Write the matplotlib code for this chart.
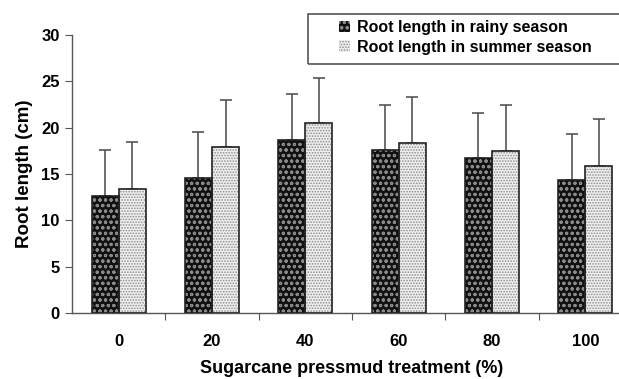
import matplotlib.pyplot as plt
import numpy as np
from matplotlib.patches import Rectangle

plt.rcParams['font.family'] = ['Liberation Sans', 'DejaVu Sans']
plt.rcParams['font.weight'] = 'bold'
plt.rcParams['axes.labelweight'] = 'bold'
plt.rcParams['hatch.linewidth'] = 0.8

# data
treatments = ["0", "20", "40", "60", "80", "100"]
rainy = [12.6, 14.6, 18.7, 17.6, 16.7, 14.3]
rainy_err = [5.0, 4.9, 4.9, 4.9, 4.9, 5.0]
summer = [13.4, 17.9, 20.5, 18.3, 17.5, 15.9]
summer_err = [5.0, 5.1, 4.9, 5.0, 5.0, 5.0]

W, H = 619, 379
fig = plt.figure(figsize=(W / 100, H / 100), dpi=100)
ax = fig.add_axes([72 / W, (H - 313) / H, 560 / W, 278 / H])

x = np.arange(len(treatments))
bw = 0.29
grey = '#555555'
r_face, r_hatch = '#111111', '#8a8a8a'
s_face, s_hatch = '#f0f0f0', '#8c8c8c'

# filled + hatched bars (hatch drawn in edge colour), then black outline
ax.bar(x - bw / 2, rainy, bw, color=r_face, edgecolor=r_hatch, hatch='ooo', linewidth=0, zorder=2)
ax.bar(x + bw / 2, summer, bw, color=s_face, edgecolor=s_hatch, hatch='......', linewidth=0, zorder=2)
ax.bar(x - bw / 2, rainy, bw, fill=False, edgecolor='#222222', linewidth=1.2, zorder=3)
ax.bar(x + bw / 2, summer, bw, fill=False, edgecolor='#222222', linewidth=1.2, zorder=3)

ax.errorbar(x - bw / 2, rainy, yerr=[np.zeros(6), rainy_err], fmt='none', ecolor=grey,
            elinewidth=1.2, capsize=4, capthick=1.2, zorder=1)
ax.errorbar(x + bw / 2, summer, yerr=[np.zeros(6), summer_err], fmt='none', ecolor=grey,
            elinewidth=1.2, capsize=4, capthick=1.2, zorder=1)

ax.set_xlim(-0.5, 5.5)
ax.set_ylim(0, 30)
ax.set_yticks(range(0, 31, 5))
ax.set_xticks(np.arange(0.5, 5.5, 1))
ax.set_xticklabels([])
ax.set_xticks(x, minor=True)
ax.set_xticklabels(treatments, minor=True)
ax.tick_params(axis='x', which='minor', length=0, pad=15, labelsize=12)
ax.tick_params(axis='x', which='major', length=5, color=grey, direction='out')
ax.tick_params(axis='y', length=5, color=grey, labelsize=12, pad=4)

for s in ['top', 'right']:
    ax.spines[s].set_visible(False)
for s in ['left', 'bottom']:
    ax.spines[s].set_color(grey)
    ax.spines[s].set_linewidth(1.0)

ax.set_ylabel("Root length (cm)", fontsize=13.5, labelpad=6)
ax.set_xlabel("Sugarcane pressmud treatment (%)", fontsize=13, labelpad=8)

# legend box
fig.patches.append(Rectangle((308 / W, 1 - 64 / H), 330 / W, 50 / H, transform=fig.transFigure,
                             fill=False, edgecolor='#555555', linewidth=1.2))
h1 = Rectangle((0, 0), 1, 1, facecolor=r_face, edgecolor=r_hatch, hatch='ooo', linewidth=0)
h2 = Rectangle((0, 0), 1, 1, facecolor=s_face, edgecolor=s_hatch, hatch='......', linewidth=0)
fig.legend([h1, h2], ["Root length in rainy season", "Root length in summer season"],
           loc='upper left', bbox_to_anchor=(326 / W, 1 - 7 / H), frameon=False,
           fontsize=11.5, handlelength=0.7, handleheight=0.7, handletextpad=0.45,
           labelspacing=0.3, borderpad=0.3)

fig.savefig("out.png", dpi=100)
